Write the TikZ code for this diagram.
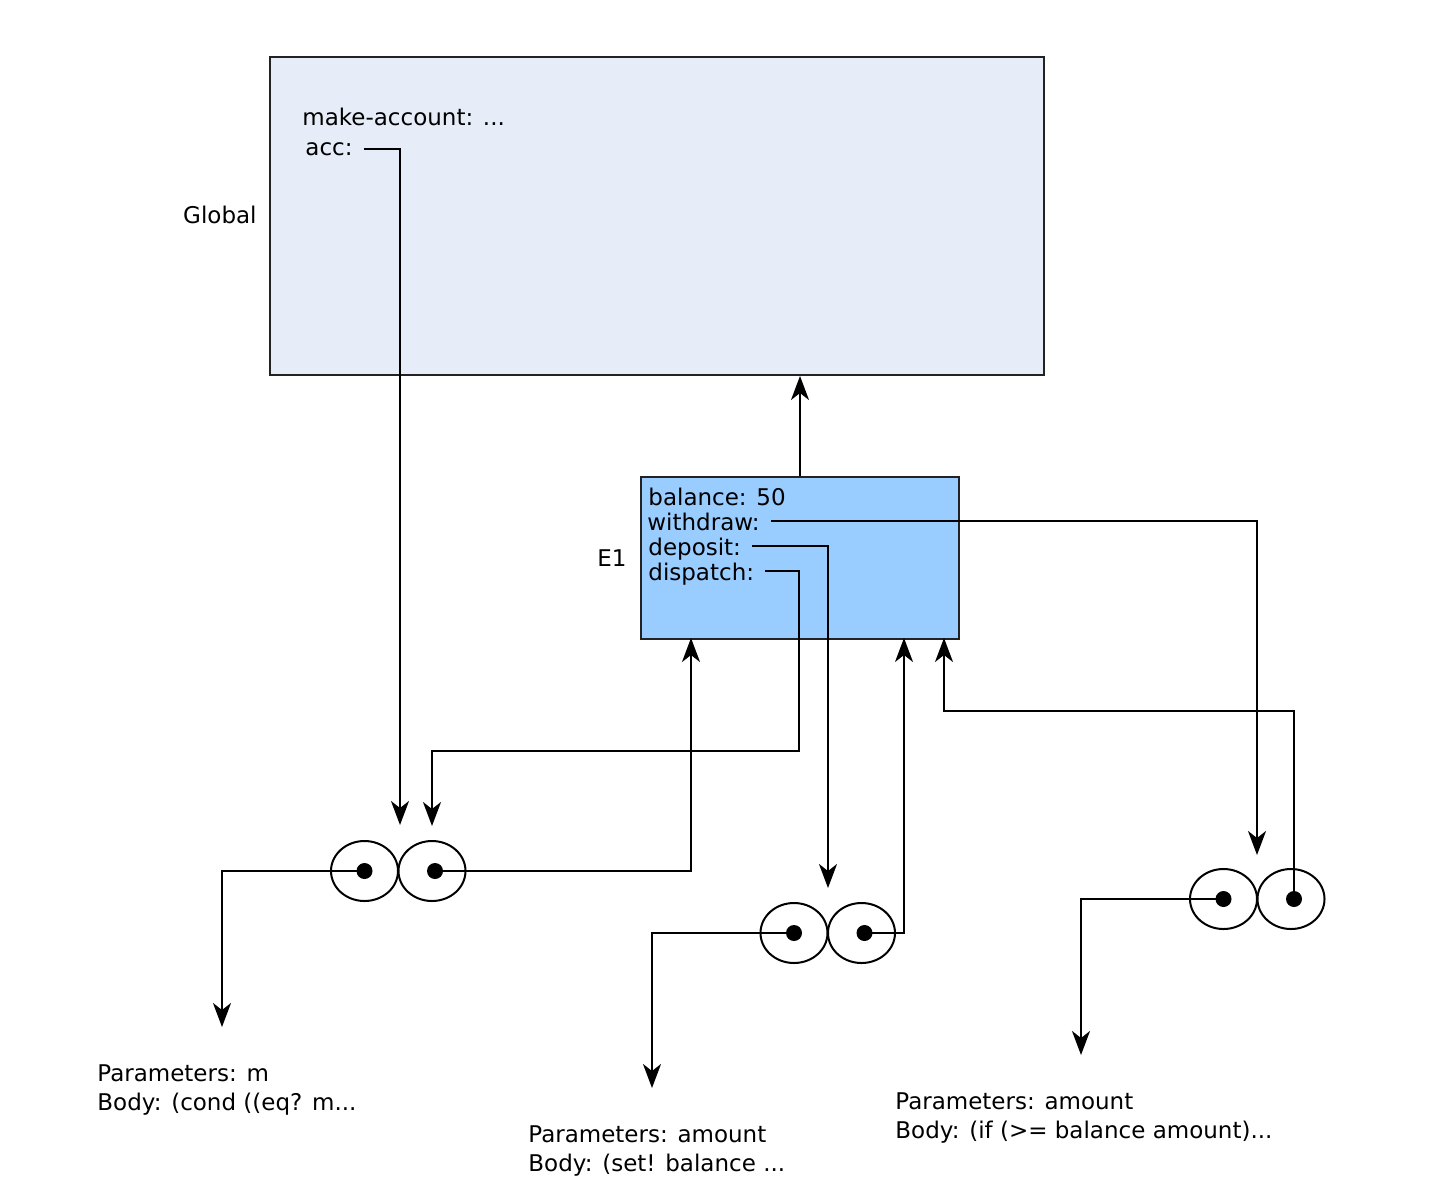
\documentclass[tikz,border=0pt]{standalone}
\usepackage{fontspec}
\setmainfont{DejaVu Sans}
\usepackage{xcolor}
\usetikzlibrary{positioning, arrows.meta, shapes.geometric}
\definecolor{globalbg}{HTML}{E6EDF8}
\definecolor{framebg}{HTML}{99CCFF}
\definecolor{edge}{HTML}{222222}
\newcommand{\envfont}{\fontsize{11.5}{14.5}\selectfont}
\tikzset{
  env frame/.style={
    draw=edge, line width=1pt,
    anchor=north west, inner sep=0pt
  },
  binding/.style={
    anchor=base west, inner sep=0pt,
    text depth=0pt, font=\envfont
  },
  env label/.style={inner sep=0pt, font=\envfont},
  proc half/.style={
    ellipse, draw=black, line width=1pt,
    minimum width=33.5pt, minimum height=30pt, inner sep=0pt
  },
  proc dot/.style={circle, fill=black, minimum size=8pt, inner sep=0pt},
  proc text/.style={anchor=base west, inner sep=0pt, font=\envfont},
  ptr/.style={
    -{Stealth[length=12pt, width=9pt, inset=3.5pt]},
    line width=1pt, color=black
  },
  from text/.style={shorten <=5.5pt}
}

\begin{document}
\begin{tikzpicture}[x=0.5pt, y=-0.5pt]
  \useasboundingbox (0,0) rectangle (1440,1200);

  % Global environment
  \node[env frame, fill=globalbg, minimum width=387pt, minimum height=159pt] (global) at (269,56) {};
  \node[env label, anchor=base east] (globallbl) at (257,223) {Global};
  \node[binding] (mkacc) at (302,125) {make-account: ...};
  \node[binding] (acc) at (305,155) {acc:};

  % Frame E1
  \node[env frame, fill=framebg, minimum width=159pt, minimum height=81pt] (e1) at (640,476) {};
  \node[env label, anchor=base east] (e1lbl) at (627,566) {E1};
  \node[binding] (balance) at (648,505) {balance: 50};
  \node[binding] (withdraw) at (647,530) {withdraw:};
  \node[binding] (deposit) at (648,555) {deposit:};
  \node[binding] (dispatch) at (648,580) {dispatch:};

  % Procedure objects
  \node[proc half] (p1l) at (364.5,871) {};
  \node[proc half] (p1r) at (432,871) {};
  \node[proc half] (p2l) at (794,933) {};
  \node[proc half] (p2r) at (861.5,933) {};
  \node[proc half] (p3l) at (1223.5,899) {};
  \node[proc half] (p3r) at (1291,899) {};
  \node[proc dot] (d1l) at (p1l) {};
  \node[proc dot] (d1r) at ([xshift=1.5pt]p1r) {};
  \node[proc dot] (d2l) at (p2l) {};
  \node[proc dot] (d2r) at ([xshift=1.5pt]p2r) {};
  \node[proc dot] (d3l) at (p3l) {};
  \node[proc dot] (d3r) at ([xshift=1.5pt]p3r) {};

  % Procedure texts
  \node[proc text] (par1) at (97,1081) {Parameters: m};
  \node[proc text] (body1) at (97,1110) {Body: (cond ((eq? m...};
  \node[proc text] (par2) at (528,1142) {Parameters: amount};
  \node[proc text] (body2) at (528,1171) {Body: (set! balance ...};
  \node[proc text] (par3) at (895,1109) {Parameters: amount};
  \node[proc text] (body3) at (895,1138) {Body: (if (>= balance amount)...};

  % Arrow ends
  \coordinate (accend) at (400,825);
  \coordinate (dispturn) at (799,751);
  \coordinate (dispend) at (432,826);
  \coordinate (depend) at (828,888);
  \coordinate (wdend) at (1257,855);
  \coordinate (code1) at (222,1027);
  \coordinate (code2) at (652,1088);
  \coordinate (code3) at (1081,1055);
  \coordinate (env1) at (691,638);
  \coordinate (env2) at (904,638);
  \coordinate (env3turn) at (944,711);
  \coordinate (env3) at (944,638);

  % Pointers
  \draw[ptr] (e1.north) -- (e1.north |- global.south);
  \draw[ptr, from text] (acc.east) -| (accend);
  \draw[ptr, from text] (withdraw.east) -| (wdend);
  \draw[ptr, from text] (deposit.east) -| (depend);
  \draw[ptr, from text] (dispatch.east) -| (dispturn) -| (dispend);
  \draw[ptr] (d1l.center) -| (code1);
  \draw[ptr] (d1r.center) -| (env1);
  \draw[ptr] (d2l.center) -| (code2);
  \draw[ptr] (d2r.center) -| (env2);
  \draw[ptr] (d3l.center) -| (code3);
  \draw[ptr] (d3r.center) |- (env3turn) -- (env3);
\end{tikzpicture}
\end{document}
